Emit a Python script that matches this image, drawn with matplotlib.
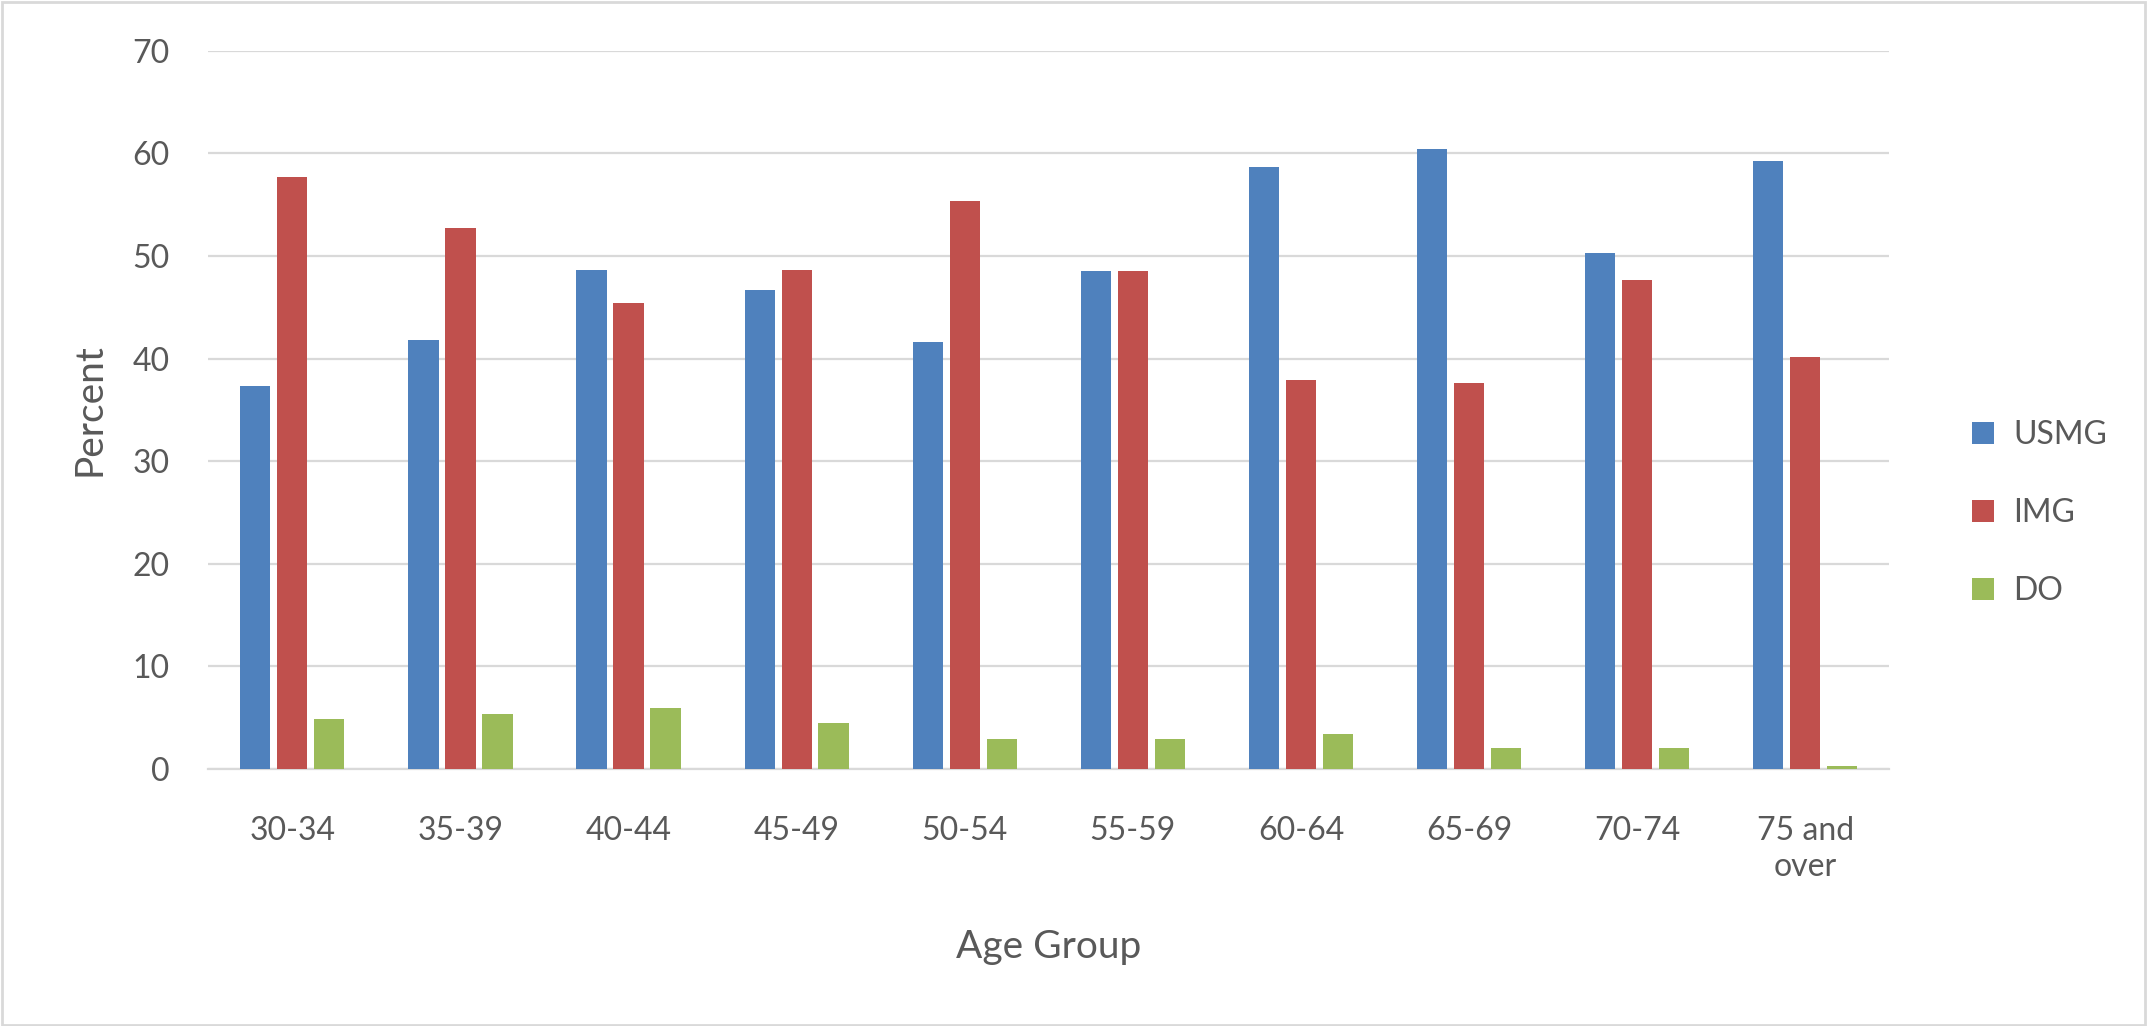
import numpy as np
import matplotlib.pyplot as plt
from matplotlib.patches import Rectangle

plt.rcParams['font.family'] = ['Lato', 'DejaVu Sans']

# data
age_groups = ["30-34", "35-39", "40-44", "45-49", "50-54",
              "55-59", "60-64", "65-69", "70-74", "75 and\nover"]
usmg = [37.3, 41.8, 48.6, 46.7, 41.6, 48.5, 58.7, 60.4, 50.3, 59.3]
img = [57.7, 52.7, 45.4, 48.6, 55.4, 48.5, 37.9, 37.6, 47.7, 40.2]
do = [4.9, 5.4, 5.9, 4.5, 2.9, 2.9, 3.4, 2.0, 2.0, 0.25]

blue = "#4f81bd"
red = "#c0504d"
green = "#9bbb59"
text_col = "#595959"
grid_col = "#d9d9d9"

fig = plt.figure(figsize=(21.47, 10.26), dpi=100)
ax = fig.add_axes([0.097, 0.2505, 0.783, 0.70])

x = np.arange(len(age_groups))
w = 0.18
off = 0.22
ax.bar(x - off, usmg, w, color=blue, label="USMG", zorder=3)
ax.bar(x, img, w, color=red, label="IMG", zorder=3)
ax.bar(x + off, do, w, color=green, label="DO", zorder=3)

ax.set_xlim(-0.5, len(age_groups) - 0.5)
ax.set_ylim(0, 70)
ax.set_yticks(range(0, 71, 10))
ax.set_xticks(x)
ax.set_xticklabels(age_groups, linespacing=1.25)
ax.yaxis.grid(True, color=grid_col, linewidth=1.6, zorder=0)
ax.set_axisbelow(True)

for s in ["top", "right", "left"]:
    ax.spines[s].set_visible(False)
ax.spines["bottom"].set_color(grid_col)
ax.spines["bottom"].set_linewidth(1.6)
ax.tick_params(axis="both", length=0, labelsize=23, colors=text_col)
ax.tick_params(axis="y", pad=28)
ax.tick_params(axis="x", pad=34)

ax.set_ylabel("Percent", fontsize=28, color=text_col, labelpad=18)
ax.set_xlabel("Age Group", fontsize=28, color=text_col, labelpad=34)

leg = fig.legend(loc="center left", bbox_to_anchor=(0.905, 0.50), frameon=False,
                 fontsize=23, handlelength=0.7, handleheight=0.7,
                 labelspacing=1.5, handletextpad=0.6)
for t in leg.get_texts():
    t.set_color(text_col)

# light border round the whole chart
fig.patches.append(Rectangle((0.001, 0.001), 0.998, 0.997, transform=fig.transFigure,
                             fill=False, edgecolor=grid_col, linewidth=2))

fig.savefig("out.png", dpi=100)
